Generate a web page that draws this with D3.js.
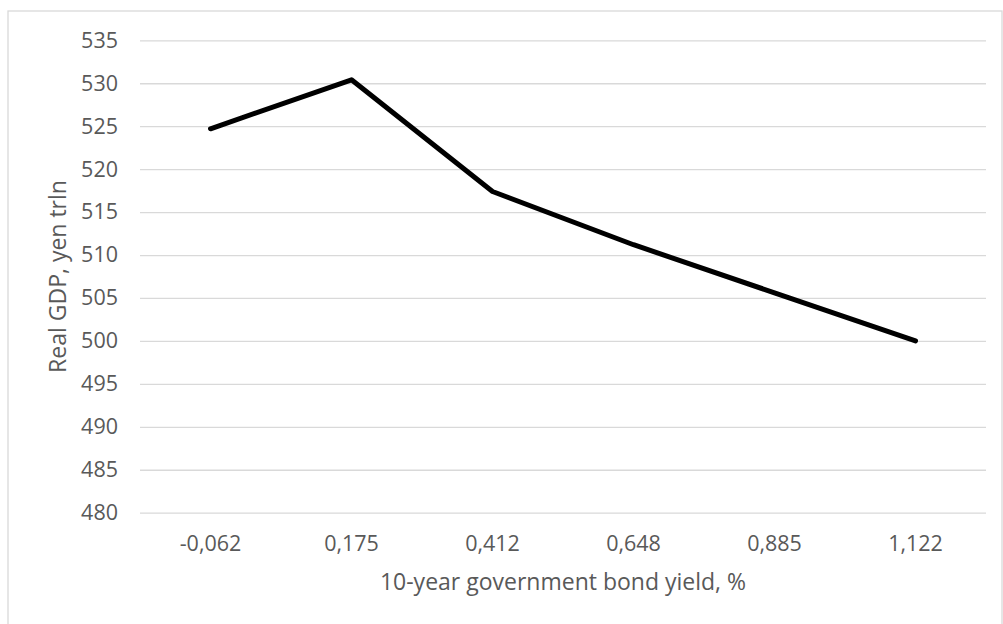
<!DOCTYPE html>
<html><head><meta charset="utf-8">
<script src="https://cdn.jsdelivr.net/npm/d3@7"></script>
<style>html,body{margin:0;padding:0;background:#fff;}svg{display:block;}</style>
</head><body>
<svg id="chart" width="1003" height="624"></svg>
<script>
const categories = ["-0,062", "0,175", "0,412", "0,648", "0,885", "1,122"];
const gdpValues = [524.7, 530.4, 517.4, 511.2, 505.6, 500.0];
const yTicks = [480, 485, 490, 495, 500, 505, 510, 515, 520, 525, 530, 535];
const xTitle = "10-year government bond yield, %";
const yTitle = "Real GDP, yen trln";

const svg = d3.select("#chart");
const m = {left: 140, right: 986, top: 40.3, bottom: 512.7};
const font = "'Open Sans', sans-serif";
const fs = "21.5px";
const fsTitle = "23px";
const textColor = "#595959";

svg.append("rect").attr("x", 8).attr("y", 11).attr("width", 994).attr("height", 640)
  .attr("fill", "#fff").attr("stroke", "#d9d9d9").attr("stroke-width", 1.3);

const x = d3.scaleBand().domain(categories).range([m.left, m.right]);
const y = d3.scaleLinear().domain([480, 535]).range([m.bottom, m.top]);

const yAxis = d3.axisLeft(y).tickValues(yTicks).tickSize(-(m.right - m.left)).tickPadding(22);
const gy = svg.append("g").attr("transform", `translate(${m.left},0)`).call(yAxis);
gy.select(".domain").remove();
gy.selectAll(".tick line").attr("stroke", "#d9d9d9").attr("stroke-width", 1.3);
gy.selectAll(".tick text").attr("fill", textColor).style("font-family", font).style("font-size", fs);

const xAxis = d3.axisBottom(x).tickSize(0).tickPadding(23);
const gx = svg.append("g").attr("transform", `translate(0,${m.bottom})`).call(xAxis);
gx.select(".domain").remove();
gx.selectAll(".tick text").attr("fill", textColor).style("font-family", font).style("font-size", fs);

const line = d3.line().x((d, i) => x(categories[i]) + x.bandwidth() / 2).y(d => y(d));
svg.append("path").datum(gdpValues).attr("d", line).attr("fill", "none")
  .attr("stroke", "#000").attr("stroke-width", 5).attr("stroke-linejoin", "round").attr("stroke-linecap", "round");

svg.append("text").attr("x", 563).attr("y", 590).attr("text-anchor", "middle")
  .attr("fill", textColor).style("font-family", font).style("font-size", fsTitle).text(xTitle);
svg.append("text").attr("transform", `translate(66,${(m.top + m.bottom) / 2}) rotate(-90)`).attr("text-anchor", "middle")
  .attr("fill", textColor).style("font-family", font).style("font-size", fsTitle).text(yTitle);
</script>
</body></html>
